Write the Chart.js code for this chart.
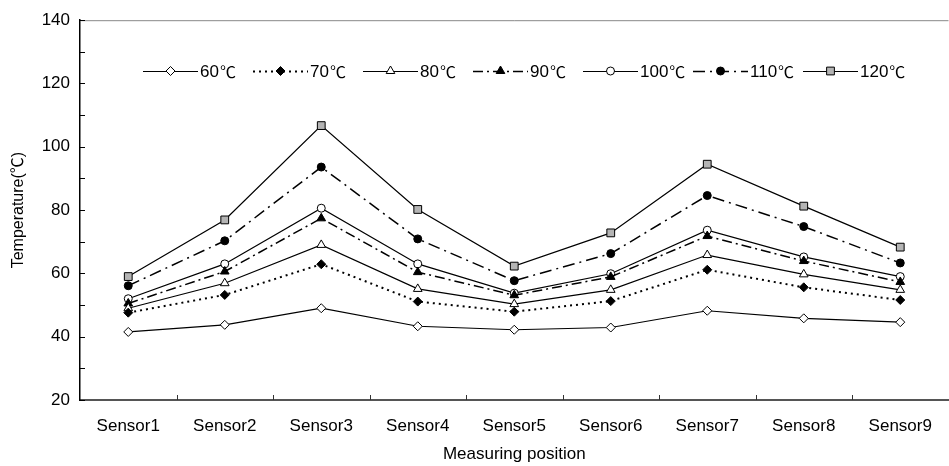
<!DOCTYPE html>
<html>
<head>
<meta charset="utf-8">
<script src="https://cdn.jsdelivr.net/npm/chart.js@4.4.1/dist/chart.umd.min.js"></script>
<style>
html,body{margin:0;padding:0;background:#fff;overflow:hidden;width:949px;height:466px;}
#wrap{width:955px;height:466px;}
</style>
</head>
<body>
<div id="wrap"><canvas id="c" width="955" height="466"></canvas></div>
<script>
const categories = ['Sensor1','Sensor2','Sensor3','Sensor4','Sensor5','Sensor6','Sensor7','Sensor8','Sensor9'];
const seriesNames = ['60℃','70℃','80℃','90℃','100℃','110℃','120℃'];
const t60  = [41.5, 43.75, 49.0, 43.3, 42.2, 42.9, 48.2, 45.8, 44.6];
const t70  = [47.6, 53.2, 62.9, 51.1, 47.9, 51.25, 61.15, 55.6, 51.6];
const t80  = [49.0, 56.9, 69.0, 55.1, 50.3, 54.8, 65.8, 59.7, 54.8];
const t90  = [50.5, 60.6, 77.4, 60.4, 53.1, 58.9, 71.8, 63.9, 57.3];
const t100 = [52.0, 63.0, 80.6, 63.0, 53.75, 59.9, 73.65, 65.2, 59.0];
const t110 = [56.1, 70.3, 93.6, 70.9, 57.7, 66.25, 84.6, 74.8, 63.3];
const t120 = [59.0, 76.9, 106.7, 80.2, 62.3, 72.8, 94.5, 81.25, 68.3];
const yMin = 20, yMax = 140, yStep = 20, yMinorStep = 10;

const FONT = "'Liberation Sans', Arial, 'Noto Sans CJK SC', sans-serif";
const CJK = "'Noto Sans CJK SC', 'Noto Sans CJK JP', sans-serif";

function ds(label, data, style) {
  return Object.assign({
    label, data,
    borderColor: '#000',
    borderWidth: 1.2,
    pointBorderColor: '#000',
    pointBorderWidth: 1,
    tension: 0,
    fill: false
  }, style);
}

const datasets = [
  ds(seriesNames[0], t60,  {pointStyle:'rectRot', pointRadius:4.5, pointBackgroundColor:'#fff', borderDash:[]}),
  ds(seriesNames[1], t70,  {pointStyle:'rectRot', pointRadius:4.5, pointBackgroundColor:'#000', borderDash:[2,4], borderWidth:2}),
  ds(seriesNames[2], t80,  {pointStyle:'triangle', pointRadius:5, pointBackgroundColor:'#fff', borderDash:[]}),
  ds(seriesNames[3], t90,  {pointStyle:'triangle', pointRadius:5, pointBackgroundColor:'#000', borderDash:[10,4,2,4], borderWidth:1.5}),
  ds(seriesNames[4], t100, {pointStyle:'circle', pointRadius:4, pointBackgroundColor:'#fff', borderDash:[]}),
  ds(seriesNames[5], t110, {pointStyle:'circle', pointRadius:4, pointBackgroundColor:'#000', borderDash:[12,5,2,5], borderWidth:1.5}),
  ds(seriesNames[6], t120, {pointStyle:'rect', pointRadius:5.5, pointBackgroundColor:'#b4b4b4', borderDash:[]})
];

const decor = {
  id: 'decor',
  afterDraw(chart) {
    const ctx = chart.ctx;
    const a = chart.chartArea;
    const xs = chart.scales.x, ys = chart.scales.y;
    ctx.save();
    ctx.strokeStyle = '#888';
    ctx.lineWidth = 1;
    ctx.beginPath();
    ctx.moveTo(a.left, a.top + 0.5);
    ctx.lineTo(a.right, a.top + 0.5);
    ctx.stroke();
    ctx.strokeStyle = '#000';
    ctx.lineWidth = 1;
    for (let v = yMin; v <= yMax; v += yMinorStep) {
      const y = Math.round(ys.getPixelForValue(v)) + 0.5;
      ctx.beginPath();
      ctx.moveTo(a.left, y);
      ctx.lineTo(a.left + 5, y);
      ctx.stroke();
    }
    ctx.strokeStyle = '#333';
    for (let i = 0; i < categories.length - 1; i++) {
      const x = Math.round((xs.getPixelForValue(i) + xs.getPixelForValue(i + 1)) / 2) + 0.5;
      ctx.beginPath();
      ctx.moveTo(x, a.bottom);
      ctx.lineTo(x, a.bottom - 5);
      ctx.stroke();
    }
    const ly = 71, startX = 143, itemW = 110, lineLen = 55;
    ctx.textBaseline = 'middle';
    ctx.textAlign = 'left';
    chart.data.datasets.forEach((d, i) => {
      const x0 = startX + i * itemW;
      ctx.save();
      ctx.strokeStyle = d.borderColor;
      ctx.lineWidth = d.borderWidth;
      ctx.setLineDash(d.borderDash || []);
      ctx.beginPath();
      ctx.moveTo(x0, ly + 0.5);
      ctx.lineTo(x0 + lineLen, ly + 0.5);
      ctx.stroke();
      ctx.restore();
      ctx.save();
      ctx.fillStyle = d.pointBackgroundColor;
      ctx.strokeStyle = d.pointBorderColor;
      ctx.lineWidth = 1;
      Chart.helpers.drawPoint(ctx, {pointStyle: d.pointStyle, radius: d.pointRadius, rotation: 0, borderWidth: 1}, x0 + lineLen / 2, ly);
      ctx.restore();
      ctx.fillStyle = '#000';
      const num = d.label.replace('℃', '');
      const unit = d.label.slice(num.length);
      ctx.font = "17px " + FONT;
      const tx = x0 + lineLen + 2;
      ctx.fillText(num, tx, ly + 1);
      const w = ctx.measureText(num).width;
      ctx.font = "16px " + CJK;
      ctx.fillText(unit, tx + w + 1, ly + 1);
    });
    ctx.restore();
  }
};

new Chart(document.getElementById('c'), {
  type: 'line',
  data: { labels: categories, datasets },
  options: {
    responsive: false,
    animation: false,
    layout: { padding: { top: 17, right: 0, left: 0, bottom: 0 } },
    plugins: { legend: { display: false }, tooltip: { enabled: false } },
    scales: {
      x: {
        type: 'category',
        offset: true,
        grid: { display: true, drawOnChartArea: false, drawTicks: false, offset: true },
        border: { display: true, color: '#555', width: 2 },
        ticks: { color: '#000', font: { family: FONT, size: 17 }, padding: 16, maxRotation: 0, autoSkip: false },
        title: { display: true, text: 'Measuring position', color: '#000', font: { family: FONT, size: 17 }, padding: { top: 4, bottom: 1 } },
        afterFit(s) { s.height = 66; }
      },
      y: {
        min: yMin, max: yMax,
        grid: { display: true, drawOnChartArea: false, drawTicks: false },
        border: { display: true, color: '#000', width: 1.5 },
        ticks: { stepSize: yStep, color: '#000', font: { family: FONT, size: 17 }, padding: 10 },
        title: { display: true, text: 'Temperature(℃)', color: '#000', font: { family: FONT, size: 16 }, padding: { top: 9, bottom: 0 } },
        afterFit(s) { s.width = 80; }
      }
    }
  },
  plugins: [decor]
});
</script>
</body>
</html>
